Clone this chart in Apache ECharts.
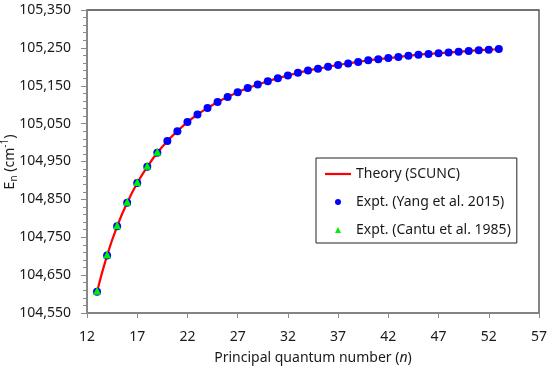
<!DOCTYPE html>
<html><head><meta charset="utf-8">
<script src="https://cdn.jsdelivr.net/npm/echarts@6/dist/echarts.min.js"></script>
<style>html,body{margin:0;padding:0;background:#fff}#c{width:550px;height:372px}</style>
</head><body><div id="c"></div>
<script>
const nYang = [13,14,15,16,17,18,19,20,21,22,23,24,25,26,27,28,29,30,31,32,33,34,35,36,37,38,39,40,41,42,43,44,45,46,47,48,49,50,51,52,53];
const eYang = [104606,104702,104779,104841,104893,104936,104973,105004,105030,105054,105074,105091,105107,105120,105133,105144,105153,105162,105170,105177,105184,105190,105195,105200,105205,105209,105213,105217,105220,105223,105226,105229,105232,105234,105236,105238,105240,105242,105244,105245,105247];
const nCantu = [13,14,15,16,17,18,19];
const eCantu = [104606,104702,104779,104841,104893,104936,104973];
const nTheory = nYang;
const eTheory = eYang;
const xTicks = [12,17,22,27,32,37,42,47,52,57];
const yTicks = [104550,104650,104750,104850,104950,105050,105150,105250,105350];

const FONT = 'Noto Sans';
const FS = 14;
const TXT = '#1a1a1a';
const yMinor = [];
for (let v = yTicks[0]; v <= yTicks[yTicks.length-1]; v += 20) yMinor.push(v);

const pairs = (xs, ys) => xs.map((x, i) => [x, ys[i]]);
const fmt = v => Number(v).toLocaleString('en-US');

// legend icons drawn in a 26x7 box (invisible M points fix the bounding box)
const ICON_LINE = 'path://M0,0M0,2.4L26,2.4L26,4.6L0,4.6ZM26,7';
const ICON_TRI = 'path://M0,0M10,6.5L13,0.5L16,6.5ZM26,7';
const ICON_DOT = 'path://M0,0M10,3.5A3,3,0,1,1,16,3.5A3,3,0,1,1,10,3.5ZM26,7';

const chart = echarts.init(document.getElementById('c'), null, {renderer: 'canvas'});
chart.setOption({
  animation: false,
  backgroundColor: '#fff',
  textStyle: {fontFamily: FONT},
  grid: {left: 87, right: 9, top: 10, bottom: 59, show: true, borderColor: '#444', borderWidth: 1.3, backgroundColor: 'transparent'},
  graphic: [{
    type: 'text', x: 10, y: 162, rotation: Math.PI / 2, silent: true,
    style: {
      text: '{m|E}{sub|n}{m| (cm}{sup|-1}{m|)}',
      align: 'center', verticalAlign: 'middle', fill: TXT,
      rich: {
        m: {fontSize: FS, lineHeight: 19, fill: TXT, fontFamily: FONT},
        sub: {fontSize: 10, lineHeight: 10, verticalAlign: 'bottom', fill: TXT, fontFamily: FONT},
        sup: {fontSize: 10, lineHeight: 10, verticalAlign: 'top', fill: TXT, fontFamily: FONT}
      }
    }
  }],
  xAxis: {
    type: 'value', min: xTicks[0], max: xTicks[xTicks.length-1],
    axisLine: {show: true, lineStyle: {color: '#8a8a8a', width: 1.5}},
    axisTick: {show: true, inside: false, length: 5, lineStyle: {color: '#8a8a8a'}, customValues: xTicks},
    axisLabel: {customValues: xTicks, margin: 17, color: TXT, fontSize: FS, fontFamily: FONT},
    splitLine: {show: false},
    name: 'Principal quantum number ({i|n})',
    nameLocation: 'middle', nameGap: 38,
    nameTextStyle: {color: TXT, fontSize: FS, fontFamily: FONT, rich: {i: {fontStyle: 'italic', fontSize: FS, color: TXT, fontFamily: FONT}}}
  },
  yAxis: [{
    type: 'value', min: yTicks[0], max: yTicks[yTicks.length-1],
    axisLine: {show: true, lineStyle: {color: '#8a8a8a', width: 1.5}},
    axisTick: {show: true, inside: false, length: 6, lineStyle: {color: '#8a8a8a'}, customValues: yTicks},
    axisLabel: {customValues: yTicks, margin: 16, color: TXT, fontSize: FS, fontFamily: FONT, formatter: fmt},
    splitLine: {show: false}
  }, {
    type: 'value', min: yTicks[0], max: yTicks[yTicks.length-1], position: 'left',
    axisLine: {show: false},
    axisTick: {show: true, inside: false, length: 4, lineStyle: {color: '#8a8a8a'}, customValues: yMinor},
    axisLabel: {show: false},
    splitLine: {show: false}
  }],
  legend: {
    orient: 'vertical', left: 316, top: 158,
    padding: [7, 6, 4, 9], itemGap: 10, itemWidth: 26, itemHeight: 7,
    borderColor: '#222', borderWidth: 1, backgroundColor: '#fff',
    textStyle: {fontSize: FS, color: TXT, fontFamily: FONT, lineHeight: 18},
    data: [
      {name: 'Theory (SCUNC)', icon: ICON_LINE},
      {name: 'Expt. (Yang et al. 2015)', icon: ICON_DOT},
      {name: 'Expt. (Cantu et al. 1985)', icon: ICON_TRI}
    ]
  },
  series: [
    {name: 'Theory (SCUNC)', type: 'line', smooth: true, symbol: 'none', data: pairs(nTheory, eTheory),
     lineStyle: {color: '#ff0000', width: 2.2}, itemStyle: {color: '#ff0000'}, z: 2},
    {name: 'Expt. (Yang et al. 2015)', type: 'scatter', symbol: 'circle', symbolSize: 8, data: pairs(nYang, eYang),
     itemStyle: {color: '#0000ff', opacity: 1}, z: 3},
    {name: 'Expt. (Cantu et al. 1985)', type: 'scatter', symbol: 'triangle', symbolSize: 8, symbolOffset: [0, -1], data: pairs(nCantu, eCantu),
     itemStyle: {color: '#00ee00', opacity: 1}, z: 4}
  ]
});
</script></body></html>
